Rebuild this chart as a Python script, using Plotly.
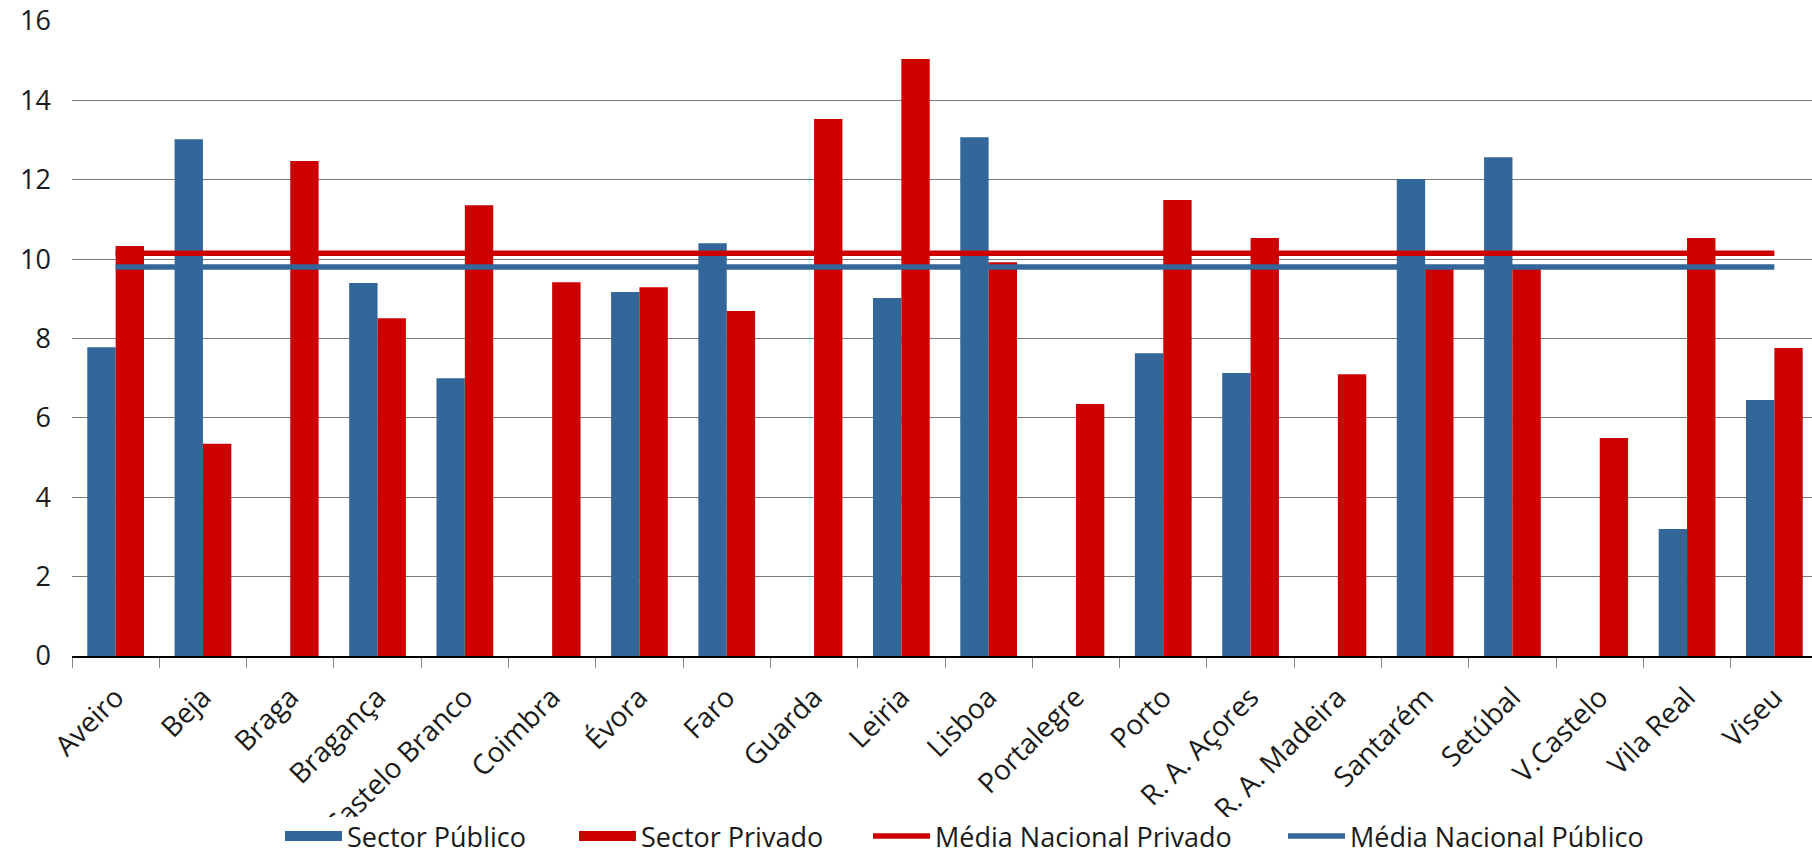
import plotly.graph_objects as go

categories = ["Aveiro", "Beja", "Braga", "Bragança", "Castelo Branco", "Coimbra", "Évora",
              "Faro", "Guarda", "Leiria", "Lisboa", "Portalegre", "Porto", "R. A. Açores",
              "R. A. Madeira", "Santarém", "Setúbal", "V.Castelo", "Vila Real", "Viseu"]
publico = [7.78, 13.02, None, 9.40, 7.00, None, 9.17, 10.40, None, 9.02,
           13.07, None, 7.63, 7.13, None, 12.02, 12.57, None, 3.20, 6.45]
privado = [10.33, 5.35, 12.47, 8.51, 11.36, 9.42, 9.29, 8.69, 13.53, 15.04,
           9.92, 6.35, 11.49, 10.53, 7.10, 9.75, 9.75, 5.49, 10.53, 7.76]
media_privado = 10.15
media_publico = 9.80
y_ticks = [0, 2, 4, 6, 8, 10, 12, 14]
y_top = 16

BLUE = "#336699"
RED = "#CC0000"
FONT = "Open Sans"
FS = 27

W, H = 1812, 861
ML, MR, MT, MB = 72, 0, 21, 205
PH = H - MB - MT
CLIP_Y = 817  # category labels are cut off above the legend band

fig = go.Figure()
fig.add_trace(go.Bar(name="Sector Público", x=categories, y=publico, marker_color=BLUE,
                     marker_line_width=0, showlegend=False))
fig.add_trace(go.Bar(name="Sector Privado", x=categories, y=privado, marker_color=RED,
                     marker_line_width=0, showlegend=False))
fig.add_trace(go.Scatter(name="Média Nacional Privado", x=categories,
                         y=[media_privado] * len(categories), mode="lines",
                         line=dict(color=RED, width=5.5), yaxis="y2", legend="legend3"))
fig.add_trace(go.Scatter(name="Média Nacional Público", x=categories,
                         y=[media_publico] * len(categories), mode="lines",
                         line=dict(color=BLUE, width=5.5), yaxis="y2", legend="legend4"))
# legend-only entries with wide rectangular swatches for the bar series
fig.add_trace(go.Scatter(name="Sector Público", x=[None], y=[None], mode="lines",
                         line=dict(color=BLUE, width=16), legend="legend"))
fig.add_trace(go.Scatter(name="Sector Privado", x=[None], y=[None], mode="lines",
                         line=dict(color=RED, width=16), legend="legend2"))

def leg(xpx):
    return dict(orientation="h", xref="paper", yref="paper",
                x=(xpx - ML) / (W - ML - MR), xanchor="left",
                y=-MB / PH, yanchor="bottom",
                font=dict(size=FS, family=FONT, color="#1a1a1a"), itemwidth=57,
                bgcolor="rgba(0,0,0,0)", borderwidth=0)

fig.update_layout(
    width=W, height=H,
    paper_bgcolor="white", plot_bgcolor="white",
    margin=dict(l=ML, r=MR, t=MT, b=MB),
    barmode="group", bargap=0.35, bargroupgap=0,
    font=dict(family=FONT, size=FS, color="#1a1a1a"),
    xaxis=dict(range=[-0.5, -0.5 + (W - ML) / 87.3], tickangle=-45,
               showline=True, linecolor="black", linewidth=1.5,
               ticks="outside", tickson="boundaries", ticklen=10, tickcolor="#888888",
               showgrid=False, tickfont=dict(size=28), ticklabelstandoff=12,
               automargin=False),
    yaxis=dict(range=[0, y_top], tickvals=y_ticks, showgrid=True, gridcolor="#7a7a7a",
               gridwidth=1, zeroline=False, showline=False, ticks="",
               ticklabelstandoff=20, tickfont=dict(size=FS), automargin=False),
    yaxis2=dict(range=[0, y_top], overlaying="y", side="left", tickvals=[y_top],
                showgrid=False, zeroline=False, showline=False, ticks="",
                ticklabelstandoff=20, tickfont=dict(size=FS), automargin=False),
    legend=leg(280),
    legend2=leg(574),
    legend3=leg(868),
    legend4=leg(1283),
    showlegend=True,
    shapes=[dict(type="rect", xref="paper", yref="paper", layer="above",
                 x0=-0.1, x1=1.1, y0=-(CLIP_Y - (H - MB)) / PH, y1=-(H + 10 - (H - MB)) / PH,
                 fillcolor="white", line=dict(width=0))],
)

fig.write_html("out.html")
